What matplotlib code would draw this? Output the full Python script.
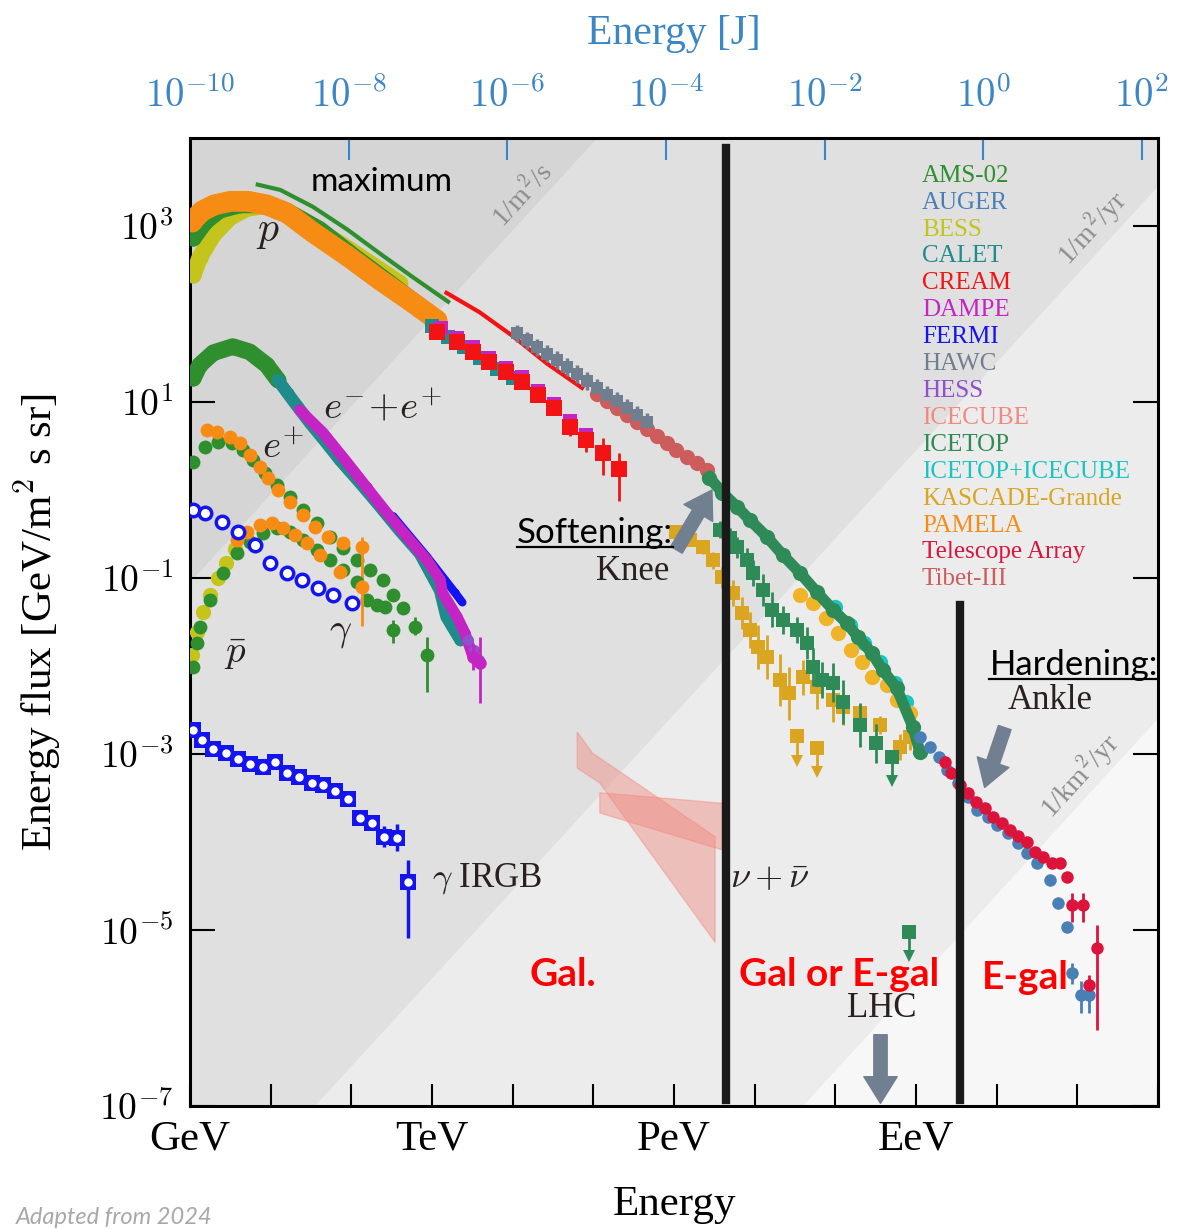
import numpy as np
import matplotlib
matplotlib.use("Agg")
import matplotlib.pyplot as plt
from matplotlib.lines import Line2D
from matplotlib.ticker import NullLocator

plt.rcParams['font.family'] = ['Liberation Serif', 'DejaVu Serif']
plt.rcParams['mathtext.fontset'] = 'cm'

# values, as log10(E / GeV) and log10(E^2 dN/dE / GeV m^-2 s^-1 sr^-1)

# --- protons ---
ams_p_line_le = [0.84, 1.12, 1.52, 1.95, 2.35, 2.76, 3.20]
ams_p_line_lf = [3.47, 3.41, 3.22, 2.96, 2.69, 2.42, 2.14]
ams_p_le = [0.04, 0.19, 0.37, 0.62, 0.87, 1.24, 1.61, 2.04, 2.48, 2.91]
ams_p_lf = [2.86, 3.05, 3.18, 3.24, 3.24, 3.15, 2.96, 2.65, 2.35, 2.05]
bess_p_le = [0.04, 0.12, 0.29, 0.50, 0.71, 0.93, 1.36, 1.98, 2.60]
bess_p_lf = [2.44, 2.64, 2.90, 3.10, 3.20, 3.23, 3.09, 2.73, 2.35]
pamela_p_le = [0.02, 0.15, 0.30, 0.50, 0.72, 0.95, 1.20, 1.52, 1.95, 2.35, 2.76, 3.06]
pamela_p_lf = [3.05, 3.17, 3.24, 3.28, 3.28, 3.24, 3.15, 2.93, 2.66, 2.39, 2.13, 1.93]
cream_line_le = [3.18, 3.59, 4.00, 4.42, 4.86]
cream_line_lf = [2.24, 2.02, 1.75, 1.44, 1.16]
calet_p_le = [3.00, 3.20, 3.40, 3.60, 3.80, 4.00]
calet_p_lf = [1.86, 1.74, 1.62, 1.50, 1.38, 1.27]
dampe_p_le = [3.11, 3.31, 3.51, 3.71, 3.92, 4.11, 4.31, 4.51, 4.71, 4.91]
dampe_p_lf = [1.84, 1.73, 1.62, 1.50, 1.39, 1.28, 1.13, 0.98, 0.78, 0.63]
cream_p_le = [3.06, 3.31, 3.51, 3.71, 3.92, 4.11, 4.31, 4.51, 4.71, 4.91, 5.12, 5.32]
cream_p_lf = [1.80, 1.68, 1.57, 1.45, 1.34, 1.23, 1.08, 0.93, 0.72, 0.57, 0.42, 0.24]
cream_p_dlo = [0, 0, 0, 0, 0, 0, 0, 0, 0.11, 0.14, 0.25, 0.36]
cream_p_dhi = [0, 0, 0, 0, 0, 0, 0, 0, 0.06, 0.06, 0.17, 0.18]

# --- all-particle ---
hawc_le = [4.05, 4.18, 4.30, 4.42, 4.55, 4.67, 4.80, 4.92, 5.04, 5.17, 5.29, 5.42, 5.54, 5.66]
hawc_lf = [1.78, 1.70, 1.62, 1.55, 1.48, 1.40, 1.32, 1.24, 1.16, 1.08, 1.01, 0.93, 0.85, 0.77]
tibet_le = [5.04, 5.17, 5.29, 5.42, 5.54, 5.66, 5.79, 5.91, 6.03, 6.16, 6.28, 6.41]
tibet_lf = [1.09, 1.01, 0.93, 0.85, 0.77, 0.69, 0.61, 0.53, 0.45, 0.38, 0.31, 0.23]
icetop_le = [6.44, 6.60, 6.78, 6.94, 7.15, 7.35, 7.56, 7.77, 7.97, 8.14, 8.28, 8.45, 8.59, 8.76, 8.96, 9.05]
icetop_lf = [0.14, -0.03, -0.19, -0.34, -0.53, -0.74, -0.94, -1.16, -1.36, -1.51, -1.67, -1.85, -2.05,
             -2.25, -2.69, -2.98]
itic_le = [7.99, 8.18, 8.36, 8.55, 8.74, 8.88]
itic_lf = [-1.33, -1.53, -1.74, -1.95, -2.19, -2.41]
kg_le = [7.56, 7.72, 7.89, 8.03, 8.20, 8.33, 8.46, 8.64, 8.77, 8.92]
kg_lf = [-1.19, -1.28, -1.45, -1.63, -1.82, -1.95, -2.13, -2.22, -2.39, -2.53]
auger_le = [9.05, 9.17, 9.29, 9.39, 9.52, 9.64, 9.76, 9.89, 10.01, 10.14, 10.26, 10.38, 10.50, 10.66,
            10.76, 10.87, 10.94, 11.05, 11.15]
auger_lf = [-2.81, -2.92, -3.03, -3.18, -3.33, -3.49, -3.64, -3.72, -3.81, -3.90, -4.01, -4.13, -4.24,
            -4.43, -4.69, -4.97, -5.49, -5.74, -5.74]
auger_dlo = [0] * 16 + [0.12, 0.20, 0.20]
auger_dhi = [0] * 16 + [0.12, 0.16, 0.16]
ta_le = [9.36, 9.44, 9.54, 9.64, 9.75, 9.85, 9.95, 10.06, 10.16, 10.26, 10.37, 10.47, 10.57, 10.68,
         10.78, 10.87, 10.94, 11.07, 11.15, 11.25]
ta_lf = [-3.09, -3.22, -3.35, -3.44, -3.55, -3.61, -3.72, -3.78, -3.86, -3.93, -4.00, -4.11, -4.17,
         -4.24, -4.24, -4.40, -4.72, -4.72, -5.63, -5.20]
ta_dlo = [0] * 16 + [0.19, 0.19, 0.18, 0.94]
ta_dhi = [0] * 16 + [0.14, 0.14, 0.12, 0.26]

# light / heavy components with error bars
kg_sq_le = [6.03, 6.20, 6.36, 6.48, 6.60, 6.73, 6.84, 6.94, 7.04, 7.15, 7.31, 7.43]
kg_sq_lf = [-0.48, -0.57, -0.65, -0.80, -0.99, -1.17, -1.40, -1.59, -1.78, -1.90, -2.16, -2.31]
kg_sq_err = [0.05, 0.06, 0.08, 0.10, 0.12, 0.15, 0.18, 0.20, 0.25, 0.25, 0.30, 0.30]
kg_sq2_le = [7.60, 7.77, 7.97, 8.09, 8.30, 8.55, 8.80, 8.92]
kg_sq2_lf = [-2.13, -2.24, -2.39, -2.47, -2.53, -2.67, -2.92, -2.81]
kg_sq2_err = [0.20, 0.25, 0.25, 0.20, 0.10, 0.10, 0.15, 0.15]
kg_ul_le = [7.53, 7.77]
kg_ul_lf = [-2.80, -2.93]
icetop_sq_le = [6.57, 6.69, 6.78, 6.90, 6.98, 7.10, 7.22, 7.35, 7.52, 7.65, 7.72, 7.84, 7.97, 8.09, 8.30, 8.51]
icetop_sq_lf = [-0.45, -0.55, -0.65, -0.80, -0.94, -1.14, -1.36, -1.48, -1.59, -1.74, -2.01, -2.16, -2.19,
                -2.41, -2.67, -2.88]
icetop_sq_err = [0.10, 0.12, 0.12, 0.14, 0.15, 0.18, 0.20, 0.16, 0.15, 0.18, 0.22, 0.20, 0.22, 0.25, 0.25, 0.22]
icetop_ul_le = [8.70, 8.91]
icetop_ul_lf = [-3.03, -5.02]

# --- leptons ---
ams_ee_le = [0.04, 0.12, 0.29, 0.53, 0.74, 0.95, 1.09]
ams_ee_lf = [1.27, 1.42, 1.56, 1.63, 1.57, 1.42, 1.25]
calet_ee_le = [1.09, 1.21, 1.34, 1.49, 1.67, 1.86, 2.11, 2.35, 2.60, 2.85, 3.10, 3.18, 3.35]
calet_ee_lf = [1.25, 1.10, 0.94, 0.76, 0.56, 0.34, 0.08, -0.18, -0.46, -0.72, -1.14, -1.44, -1.70]
dampe_ee_le = [1.36, 1.65, 1.95, 2.19, 2.44, 2.69, 2.94, 3.10, 3.13, 3.31, 3.41, 3.51, 3.59]
dampe_ee_lf = [0.91, 0.65, 0.31, 0.03, -0.26, -0.53, -0.80, -1.02, -1.17, -1.44, -1.63, -1.90, -1.97]
fermi_ee_le = [2.52, 2.73, 2.94, 3.16, 3.28, 3.37]
fermi_ee_lf = [-0.30, -0.53, -0.76, -1.02, -1.16, -1.27]
hess_ee_le = [3.45, 3.52, 3.58]
hess_ee_lf = [-1.70, -1.82, -1.93]
pamela_pos_le = [0.21, 0.33, 0.50, 0.62, 0.74, 0.87, 0.97, 1.09, 1.24, 1.40, 1.55, 1.71, 1.90]
pamela_pos_lf = [0.68, 0.66, 0.60, 0.53, 0.40, 0.26, 0.14, 0.00, -0.14, -0.28, -0.42, -0.53, -0.60]
pamela_pos_hi_le, pamela_pos_hi_lf = [2.13], [-0.65]
ams_pos_le = [0.04, 0.19, 0.35, 0.52, 0.66, 0.78, 0.93, 1.08, 1.24, 1.40, 1.57, 1.74, 1.90, 2.07,
              2.23, 2.39, 2.52, 2.64]
ams_pos_lf = [0.32, 0.49, 0.55, 0.53, 0.46, 0.34, 0.19, 0.06, -0.08, -0.23, -0.38, -0.53, -0.66, -0.80,
              -0.91, -1.02, -1.19, -1.34]

# --- antiprotons ---
ams_pbar_le = [0.04, 0.09, 0.12, 0.25, 0.41, 0.58, 0.74, 0.90, 1.08, 1.24, 1.40, 1.57, 1.73, 1.90,
               2.07, 2.19, 2.32, 2.42]
ams_pbar_lf = [-2.01, -1.74, -1.56, -1.25, -0.94, -0.72, -0.59, -0.49, -0.43, -0.48, -0.57, -0.68,
               -0.80, -0.91, -1.05, -1.25, -1.31, -1.33]
ams_pbar_hi_le = [2.52, 2.79, 2.94]
ams_pbar_hi_lf = [-1.59, -1.56, -1.88]
ams_pbar_hi_lo = [-1.74, -1.65, -2.30]
ams_pbar_hi_up = [-1.48, -1.44, -1.67]
bess_pbar_le = [0.02, 0.09, 0.16, 0.25, 0.35, 0.45, 0.56]
bess_pbar_lf = [-1.88, -1.61, -1.39, -1.19, -1.00, -0.83, -0.67]
pamela_pbar_le = [0.58, 0.71, 0.87, 1.02, 1.15, 1.30, 1.45, 1.61, 1.86]
pamela_pbar_lf = [-0.57, -0.48, -0.40, -0.38, -0.43, -0.51, -0.60, -0.74, -0.93]
pamela_pbar_hi_le, pamela_pbar_hi_lf = [2.13], [-1.10]

# --- gamma rays ---
fermi_gal_le = [0.04, 0.19, 0.40, 0.59, 0.81, 0.99, 1.20, 1.39, 1.59, 1.77, 2.01]
fermi_gal_lf = [-0.23, -0.26, -0.36, -0.48, -0.63, -0.83, -0.94, -1.02, -1.11, -1.19, -1.28]
igrb_le = [0.04, 0.15, 0.29, 0.45, 0.59, 0.74, 0.90, 1.05, 1.20, 1.35, 1.51, 1.65, 1.80, 1.96,
           2.11, 2.26, 2.40, 2.57, 2.70]
igrb_lf = [-2.73, -2.84, -2.94, -2.99, -3.06, -3.11, -3.15, -3.09, -3.22, -3.26, -3.33, -3.35, -3.42,
           -3.51, -3.73, -3.78, -3.94, -3.95, -4.45]
igrb_dlo = [0] * 14 + [0.07, 0.08, 0.12, 0.15, 0.64]
igrb_dhi = [0] * 14 + [0.07, 0.08, 0.12, 0.15, 0.25]

# --- neutrinos (IceCube bands, corners) ---
nu_a_le = [4.80, 4.99, 6.51, 6.51, 5.08, 4.80]
nu_a_lf = [-2.75, -2.99, -3.94, -5.14, -3.33, -3.16]
nu_b_le = [5.08, 6.60, 6.60, 5.08]
nu_b_lf = [-3.44, -3.56, -4.09, -3.67]

# iso-rate lines: log10(flux) - log10(E) for 1/m2/s, 1/m2/yr, 1/km2/yr
rate_offsets = [-1.05, -8.55, -14.6]
rate_labels = ['1/m$^2$/s', '1/m$^2$/yr', '1/km$^2$/yr']
rate_label_le = [4.13, 11.18, 11.03]
rate_label_lf = [3.35, 2.98, -3.24]

legend_names = ['AMS-02', 'AUGER', 'BESS', 'CALET', 'CREAM', 'DAMPE', 'FERMI', 'HAWC', 'HESS', 'ICECUBE',
                'ICETOP', 'ICETOP+ICECUBE', 'KASCADE-Grande', 'PAMELA', 'Telescope Array', 'Tibet-III']
C = {'AMS-02': '#2f8f2f', 'AUGER': '#4a7fb6', 'BESS': '#c4c41c', 'CALET': '#1f8c8c', 'CREAM': '#f21414',
     'DAMPE': '#c424c4', 'FERMI': '#1414f0', 'HAWC': '#6f7f8f', 'HESS': '#9050cc', 'ICECUBE': '#f08a80',
     'ICETOP': '#2e8b57', 'ICETOP+ICECUBE': '#1cc4c4', 'KASCADE-Grande': '#daa520', 'PAMELA': '#f78c14',
     'Telescope Array': '#dc143c', 'Tibet-III': '#cd5c5c'}

BLUE = '#3b86c4'
ARROW = '#708090'


def lin(v):
    return 10 ** np.asarray(v, dtype=float)


def band(ax, le, lf, color, lw, z):
    ax.plot(lin(le), lin(lf), '-o', color=color, lw=lw, ms=lw * 0.95, mew=0,
            solid_capstyle='round', solid_joinstyle='round', zorder=z)


def pts(ax, le, lf, color, marker='o', ms=8, z=4, **kw):
    ax.plot(lin(le), lin(lf), marker, color=color, ms=ms, mew=0, zorder=z, **kw)


def ebar(ax, le, lf, dlo, dhi, color, marker='o', ms=8, z=4, elw=2):
    y = lin(lf)
    lo = y - 10 ** (np.asarray(lf) - np.asarray(dlo))
    hi = 10 ** (np.asarray(lf) + np.asarray(dhi)) - y
    ax.errorbar(lin(le), y, yerr=[lo, hi], fmt=marker, color=color, ms=ms, mew=0,
                elinewidth=elw, capsize=4, capthick=elw, zorder=z)


def upper_limit(ax, le, lf, color, length=0.28, z=4):
    for e, f in zip(le, lf):
        ax.plot([10 ** e, 10 ** e], [10 ** f, 10 ** (f - length)], color=color, lw=2, zorder=z)
        ax.plot(10 ** e, 10 ** (f - length), 'v', color=color, ms=8, mew=0, zorder=z)
        ax.plot(10 ** e, 10 ** f, 's', color=color, ms=10, mew=0, zorder=z)


fig = plt.figure(figsize=(11.8, 12.29), dpi=100)
ax = fig.add_axes([190 / 1180, 1 - 1106 / 1229, 968 / 1180, 968 / 1229])
ax.set_xscale('log')
ax.set_yscale('log')
ax.set_xlim(1, 1e12)
ax.set_ylim(1e-7, 1e4)

# background shading between the iso-rate lines
bg = ['#d5d5d5', '#e0e0e0', '#ececec', '#f7f7f7']
xs = np.array([0.1, 1e13])
ax.fill_between(xs, 1e-9, 1e6, color=bg[3], lw=0, zorder=0)
for k in (2, 1, 0):
    ax.fill_between(xs, xs * 10 ** rate_offsets[k], 1e6, color=bg[k], lw=0, zorder=0)
for lab, e, f in zip(rate_labels, rate_label_le, rate_label_lf):
    ax.text(10 ** e, 10 ** f, lab, fontsize=20, color='#8c8c8c', rotation=47.5,
            ha='center', va='center', rotation_mode='anchor', zorder=1)

# neutrino bands
for le, lf in ((nu_a_le, nu_a_lf), (nu_b_le, nu_b_lf)):
    ax.fill(lin(le), lin(lf), color=C['ICECUBE'], alpha=0.45, lw=1, zorder=2)

# protons
band(ax, bess_p_le, bess_p_lf, C['BESS'], 12, 3)
band(ax, ams_p_le, ams_p_lf, C['AMS-02'], 12, 3.1)
band(ax, pamela_p_le, pamela_p_lf, C['PAMELA'], 15, 3.2)
ax.plot(lin(ams_p_line_le), lin(ams_p_line_lf), color=C['AMS-02'], lw=3, zorder=3.3)
ax.plot(lin(cream_line_le), lin(cream_line_lf), color=C['CREAM'], lw=3, zorder=3.3)
pts(ax, calet_p_le, calet_p_lf, C['CALET'], 's', 10, 3.3)
pts(ax, dampe_p_le, dampe_p_lf, C['DAMPE'], 's', 10, 3.4)
ebar(ax, cream_p_le, cream_p_lf, cream_p_dlo, cream_p_dhi, C['CREAM'], 's', 11, 3.5)

# all-particle
ebar(ax, hawc_le, hawc_lf, [0.1] * len(hawc_le), [0.1] * len(hawc_le), C['HAWC'], 's', 9, 3.6, elw=2.5)
pts(ax, tibet_le, tibet_lf, C['Tibet-III'], 'o', 11, 3.6)
ebar(ax, kg_sq_le, kg_sq_lf, kg_sq_err, kg_sq_err, C['KASCADE-Grande'], 's', 10, 3.6)
ebar(ax, kg_sq2_le, kg_sq2_lf, kg_sq2_err, kg_sq2_err, C['KASCADE-Grande'], 's', 10, 3.6)
upper_limit(ax, kg_ul_le, kg_ul_lf, C['KASCADE-Grande'], z=3.6)
ebar(ax, icetop_sq_le, icetop_sq_lf, icetop_sq_err, icetop_sq_err, C['ICETOP'], 's', 10, 3.7)
upper_limit(ax, icetop_ul_le, icetop_ul_lf, C['ICETOP'], z=3.7)
pts(ax, itic_le, itic_lf, C['ICETOP+ICECUBE'], 'o', 11, 3.75)
pts(ax, kg_le, kg_lf, '#f0b429', 'o', 11, 3.8)
pts(ax, icetop_le, icetop_lf, C['ICETOP'], 'o', 11, 3.85)
ax.plot(lin(icetop_le), lin(icetop_lf), color=C['ICETOP'], lw=8, zorder=3.85)
ebar(ax, auger_le, auger_lf, auger_dlo, auger_dhi, C['AUGER'], 'o', 9, 3.9)
ebar(ax, ta_le, ta_lf, ta_dlo, ta_dhi, C['Telescope Array'], 'o', 9, 3.95)

# leptons
band(ax, ams_ee_le, ams_ee_lf, C['AMS-02'], 12, 4)
band(ax, calet_ee_le, calet_ee_lf, C['CALET'], 9, 4)
band(ax, fermi_ee_le, fermi_ee_lf, C['FERMI'], 6, 4.05)
band(ax, dampe_ee_le, dampe_ee_lf, C['DAMPE'], 8, 4.1)
pts(ax, hess_ee_le, hess_ee_lf, C['HESS'], 'o', 8, 4.15)
ebar(ax, dampe_ee_le[-2:], dampe_ee_lf[-2:], [0.15, 0.45], [0.15, 0.3], C['DAMPE'], 'o', 9, 4.15)
pts(ax, ams_pos_le, ams_pos_lf, C['AMS-02'], 'o', 10, 4.2)
pts(ax, pamela_pos_le, pamela_pos_lf, C['PAMELA'], 'o', 10, 4.25)
ebar(ax, pamela_pos_hi_le, pamela_pos_hi_lf, [0.45], [0.12], C['PAMELA'], 'o', 10, 4.25)

# antiprotons
pts(ax, bess_pbar_le, bess_pbar_lf, C['BESS'], 'o', 11, 4.2)
pts(ax, ams_pbar_le, ams_pbar_lf, C['AMS-02'], 'o', 10, 4.25)
ebar(ax, ams_pbar_hi_le, ams_pbar_hi_lf, np.array(ams_pbar_hi_lf) - np.array(ams_pbar_hi_lo),
     np.array(ams_pbar_hi_up) - np.array(ams_pbar_hi_lf), C['AMS-02'], 'o', 10, 4.25)
pts(ax, pamela_pbar_le, pamela_pbar_lf, C['PAMELA'], 'o', 10, 4.3)
ebar(ax, pamela_pbar_hi_le, pamela_pbar_hi_lf, [0.45], [0.08], C['PAMELA'], 'o', 10, 4.3)

# gamma rays
ax.plot(lin(fermi_gal_le), lin(fermi_gal_lf), 'o', mfc='white', mec=C['FERMI'], mew=2.5, ms=9, zorder=4.3)
ebar(ax, igrb_le, igrb_lf, igrb_dlo, igrb_dhi, C['FERMI'], 's', 11, 4.3, elw=2.5)
ax.plot(lin(igrb_le), lin(igrb_lf), 'o', color='white', ms=6, mew=0, zorder=5)

# galactic / extragalactic dividers
ax.plot([10 ** 6.65, 10 ** 6.65], [10 ** 3.89, 10 ** -6.93], color='#1a1a1a', lw=6, zorder=6)
ax.plot([10 ** 9.54, 10 ** 9.54], [10 ** -1.31, 10 ** -6.93], color='#1a1a1a', lw=6, zorder=6)

# labels inside the plot
lato = ['Lato', 'DejaVu Sans']
ink = '#2a2020'
ax.text(10 ** 2.38, 10 ** 3.50, 'maximum', family=lato, fontsize=24, ha='center', va='center', zorder=7)
ax.text(10 ** 0.97, 10 ** 2.93, '$p$', fontsize=30, ha='center', va='center', color=ink, zorder=7)
ax.text(10 ** 2.38, 10 ** 0.93, '$e^{-}\\!+\\!e^{+}$', fontsize=28, ha='center', va='center',
        color=ink, zorder=7)
ax.text(10 ** 1.15, 10 ** 0.47, '$e^{+}$', fontsize=28, ha='center', va='center', color=ink, zorder=7)
ax.text(10 ** 1.86, 10 ** -1.61, '$\\gamma$', fontsize=28, ha='center', va='center', color=ink, zorder=7)
ax.text(10 ** 0.56, 10 ** -1.86, '$\\bar{p}$', fontsize=28, ha='center', va='center', color=ink, zorder=7)
ax.text(10 ** 3.0, 10 ** -4.41, '$\\gamma$ IRGB', fontsize=25, ha='left', va='center', color=ink, zorder=7)
ax.text(10 ** 6.69, 10 ** -4.43, '$\\nu+\\bar{\\nu}$', fontsize=26, ha='left', va='center', color=ink,
        zorder=7)
ax.text(10 ** 8.575, 10 ** -5.89, 'LHC', fontsize=25, ha='center', va='center', color=ink, zorder=7)
ax.text(10 ** 5.49, 10 ** -0.93, 'Knee', fontsize=25, ha='center', va='center', color=ink, zorder=7)
ax.text(10 ** 10.66, 10 ** -2.39, 'Ankle', fontsize=25, ha='center', va='center', color=ink, zorder=7)
t_soft = ax.text(10 ** 4.05, 10 ** -0.49, 'Softening:', family=lato, fontsize=25, ha='left', va='center',
                 zorder=7)
t_hard = ax.text(10 ** 9.91, 10 ** -1.99, 'Hardening:', family=lato, fontsize=25, ha='left', va='center',
                 zorder=7)
for s, e, f in (('Gal.', 4.62, -5.51), ('Gal or E-gal', 8.05, -5.51), ('E-gal', 10.36, -5.545)):
    ax.text(10 ** e, 10 ** f, s, family=lato, fontweight='bold', fontsize=28, color='#ff0000',
            ha='center', va='center', zorder=7)

arrow = dict(arrowstyle='simple,head_length=0.8,head_width=1.0,tail_width=0.4', color=ARROW,
             mutation_scale=24, shrinkA=0, shrinkB=0)
for tail, head in (((6.03, -0.68), (6.47, 0.0)), ((10.10, -2.70), (9.85, -3.38)),
                   ((8.56, -6.19), (8.56, -6.97))):
    ax.annotate('', xy=(10 ** head[0], 10 ** head[1]), xytext=(10 ** tail[0], 10 ** tail[1]),
                arrowprops=arrow, zorder=7)

# legend as coloured names
for i, name in enumerate(legend_names):
    ax.text(0.756, 0.961 - i * 0.0278, name, transform=ax.transAxes, fontsize=18, color=C[name],
            ha='left', va='center', zorder=7)

# axes
ax.set_xticks([10.0 ** i for i in range(13)],
              ['GeV', '', '', 'TeV', '', '', 'PeV', '', '', 'EeV', '', '', ''])
ax.set_yticks([10.0 ** i for i in range(-7, 4, 2)],
              ['$10^{%d}$' % i for i in range(-7, 4, 2)])
ax.xaxis.set_minor_locator(NullLocator())
ax.yaxis.set_minor_locator(NullLocator())
ax.tick_params(axis='x', direction='in', length=16, width=1.5, labelsize=31, pad=10, top=False)
ax.tick_params(axis='y', direction='in', length=18, width=1.5, labelsize=27, pad=12, right=True)
for sp in ax.spines.values():
    sp.set_linewidth(2.2)
ax.set_xlabel('Energy', fontsize=31)
ax.xaxis.set_label_coords(0.5, -0.082)
ax.set_ylabel('Energy flux [GeV/m$^2$ s sr]', fontsize=31)
ax.yaxis.set_label_coords(-0.13, 0.5)

secax = ax.secondary_xaxis('top', functions=(lambda e: 1e-10 * np.power(e, 1.017),
                                             lambda j: np.power(j / 1e-10, 1 / 1.017)))
secax.set_xticks([10.0 ** i for i in range(-10, 3, 2)], ['$10^{%d}$' % i for i in range(-10, 3, 2)])
secax.xaxis.set_minor_locator(NullLocator())
secax.tick_params(axis='x', direction='in', length=16, width=1.5, colors=BLUE, labelsize=28, pad=16)
secax.set_xlabel('Energy [J]', fontsize=30, color=BLUE, labelpad=24)

fig.text(0.013, 0.004, 'Adapted from 2024', family=lato, style='italic', fontsize=17, color='#a8a8a8',
         ha='left', va='baseline')

# underline the two annotations
fig.canvas.draw()
r = fig.canvas.get_renderer()
for t in (t_soft, t_hard):
    bb = t.get_window_extent(r).transformed(fig.transFigure.inverted())
    fig.add_artist(Line2D([bb.x0, bb.x1], [bb.y0 + 0.002, bb.y0 + 0.002], transform=fig.transFigure,
                          color='black', lw=1.6))

fig.savefig('out.png', dpi=100)
